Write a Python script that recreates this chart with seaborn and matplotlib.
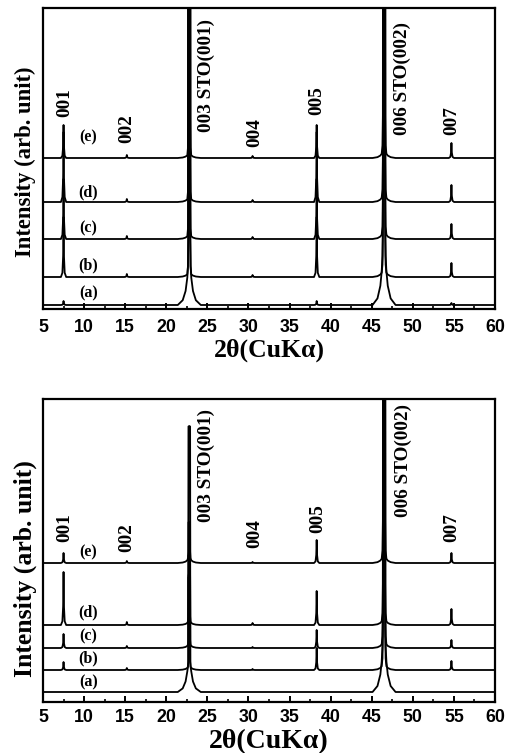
import numpy as np
import pandas as pd
import matplotlib
matplotlib.use("Agg")
import matplotlib.pyplot as plt
import seaborn as sns
from matplotlib.ticker import MultipleLocator

# ---------------- data ----------------
TRACES = ["(a)", "(b)", "(c)", "(d)", "(e)"]
X_MIN, X_MAX = 5.0, 60.0
# peak positions (2-theta): 001, 002, 003/STO(001), 004, 005, 006/STO(002), 007
PEAK_POS = [7.5, 15.2, 22.8, 30.5, 38.3, 46.5, 54.7]
STO_POS = [22.8, 46.5]

# top panel: baseline offsets and peak heights (arb. units) per trace
TOP_OFFSET = [4, 32, 70, 107, 151]
TOP_A = [4, 0, 600, 0, 4, 600, 2]
TOP_B = [60, 3, 600, 2, 60, 600, 14]
TOP_C = [60, 3, 600, 2, 60, 600, 15]
TOP_D = [70, 3, 600, 2, 70, 600, 17]
TOP_E = [33, 3, 600, 2, 33, 600, 15]
TOP_WING_STO001 = [40, 4, 4, 4, 4]
TOP_WING_STO002 = [55, 7, 7, 7, 7]

# bottom panel
BOT_OFFSET = [10, 32, 54, 77, 139]
BOT_A = [0, 0, 90, 0, 0, 600, 0]
BOT_B = [8, 2, 90, 1, 22, 600, 9]
BOT_C = [14, 2, 90, 1, 18, 600, 8]
BOT_D = [53, 3, 100, 2, 34, 600, 16]
BOT_E = [10, 2, 133, 1, 23, 600, 10]
BOT_WING_STO001 = [30, 3, 3, 3, 4]
BOT_WING_STO002 = [50, 6, 6, 6, 7]

PEAK_LABELS = ["001", "002", "003 STO(001)", "004", "005", "006 STO(002)", "007"]
TOP_LABEL_X = [7.7, 15.2, 24.9, 30.8, 38.3, 48.7, 54.75]
TOP_LABEL_Y = [192, 166, 177, 162, 194, 174, 174]
BOT_LABEL_X = [7.7, 15.2, 24.9, 30.8, 38.4, 48.8, 54.7]
BOT_LABEL_Y = [160, 150, 180, 154, 169, 185, 160]
TOP_TRACE_LABEL_Y = [16, 44, 81, 117, 172]
BOT_TRACE_LABEL_Y = [20, 44, 66, 90, 150]
TRACE_LABEL_X = 10.5

XTICKS = [5, 10, 15, 20, 25, 30, 35, 40, 45, 50, 55, 60]

# ---------------- peak shapes (drawing style) ----------------
SPIKE_DX = np.array([-0.32, -0.14, -0.05, 0.0, 0.05, 0.14, 0.32])
SPIKE_FR = np.array([0.0, 0.07, 0.35, 1.0, 0.35, 0.07, 0.0])
# substrate peaks: narrow flat-topped band
STO_DX = np.array([-0.6, -0.4, -0.3, -0.25, 0.25, 0.3, 0.4, 0.6])
STO_FR = np.array([0.0, 0.012, 0.06, 1.0, 1.0, 0.06, 0.012, 0.0])
PEAK_KIND = ["spike", "spike", "sto", "spike", "spike", "sto", "spike"]
PEAK_W = [1.0, 1.0, 0.4, 1.0, 1.0, 0.48, 1.0]
WING_DX = np.array([-1.4, -0.8, -0.45, -0.2, 0.0, 0.2, 0.45, 0.8, 1.4])
WING_FR = np.array([0.0, 0.12, 0.35, 0.75, 1.0, 0.75, 0.35, 0.12, 0.0])


def trace_frame(name, offset, heights, wings):
    parts = []
    for pos, h, kind, w in zip(PEAK_POS, heights, PEAK_KIND, PEAK_W):
        if h > 0:
            dx, fr = (STO_DX, STO_FR) if kind == "sto" else (SPIKE_DX, SPIKE_FR)
            parts.append((pos + dx * w, h * fr))
    for pos, wh in zip(STO_POS, wings):
        if wh > 0:
            parts.append((pos + WING_DX, wh * WING_FR))
    x = np.unique(np.concatenate([[X_MIN, X_MAX]] + [p[0] for p in parts]))
    y = np.full_like(x, float(offset))
    for px, py in parts:
        y += np.interp(x, px, py, left=0.0, right=0.0)
    return pd.DataFrame({"x": x, "y": y, "trace": name})


def panel_frame(offsets, rows, wing1, wing2):
    frames = []
    for i, name in enumerate(TRACES):
        frames.append(trace_frame(name, offsets[i], rows[i], [wing1[i], wing2[i]]))
    return pd.concat(frames, ignore_index=True)


top_df = panel_frame(TOP_OFFSET, [TOP_A, TOP_B, TOP_C, TOP_D, TOP_E], TOP_WING_STO001, TOP_WING_STO002)
bot_df = panel_frame(BOT_OFFSET, [BOT_A, BOT_B, BOT_C, BOT_D, BOT_E], BOT_WING_STO001, BOT_WING_STO002)

# ---------------- figure ----------------
sns.set_theme(style="ticks")
plt.rcParams["font.family"] = ["Liberation Serif", "DejaVu Serif"]

fig = plt.figure(figsize=(5.08, 7.53), dpi=100)
W, H = 508.0, 753.0
ax_top = fig.add_axes([43 / W, (H - 309) / H, 452 / W, 301 / H])
ax_bot = fig.add_axes([43 / W, (H - 702) / H, 452 / W, 303 / H])

SERIF = ["Liberation Serif", "DejaVu Serif"]


def style_axis(ax, ylim, ylabel_size, ylabel_y, xlabel_size, xlabel_off, tick_pad):
    ax.set_xlim(X_MIN, X_MAX)
    ax.set_ylim(0, ylim)
    ax.set_xticks(XTICKS)
    ax.xaxis.set_minor_locator(MultipleLocator(2.5))
    ax.set_yticks([])
    ax.tick_params(axis="x", which="major", direction="in", length=4.5, width=1.4,
                   bottom=True, top=False, pad=tick_pad, color="black")
    ax.tick_params(axis="x", which="minor", direction="in", length=2.2, width=1.4,
                   bottom=True, top=False)
    for lab in ax.get_xticklabels():
        lab.set_fontfamily(["Liberation Sans", "DejaVu Sans"])
        lab.set_fontweight("bold")
        lab.set_fontsize(12.8)
        lab.set_color("black")
    for sp in ax.spines.values():
        sp.set_visible(True)
        sp.set_linewidth(1.6)
        sp.set_color("black")
    ax.set_xlabel("2θ(CuKα)", fontfamily=SERIF, fontweight="bold",
                  fontsize=xlabel_size, color="black", va="center")
    ax.xaxis.set_label_coords(0.5, xlabel_off)
    ax.set_ylabel("Intensity (arb. unit)", fontfamily=SERIF, fontweight="bold",
                  fontsize=ylabel_size, color="black", va="center")
    ax.yaxis.set_label_coords(-0.04, ylabel_y)
    ax.set_facecolor("white")


for ax, df, lx, ly, tly in [
    (ax_top, top_df, TOP_LABEL_X, TOP_LABEL_Y, TOP_TRACE_LABEL_Y),
    (ax_bot, bot_df, BOT_LABEL_X, BOT_LABEL_Y, BOT_TRACE_LABEL_Y),
]:
    sns.lineplot(data=df, x="x", y="y", units="trace", estimator=None, sort=False,
                 color="black", linewidth=1.3, legend=False, ax=ax)
    for txt, x, y in zip(PEAK_LABELS, lx, ly):
        ax.text(x, y, txt, rotation=90, ha="center", va="bottom", fontfamily=SERIF,
                fontweight="bold", fontsize=13.8, color="black")
    for name, y in zip(TRACES, tly):
        ax.text(TRACE_LABEL_X, y, name, ha="center", va="center", fontfamily=SERIF,
                fontweight="bold", fontsize=11.5, color="black")

style_axis(ax_top, 301, 16.3, 0.49, 18.5, -41 / 301, 7)
style_axis(ax_bot, 303, 18.5, 0.44, 20, -40 / 303, 5)

fig.savefig("out.png", dpi=100, facecolor="white")
